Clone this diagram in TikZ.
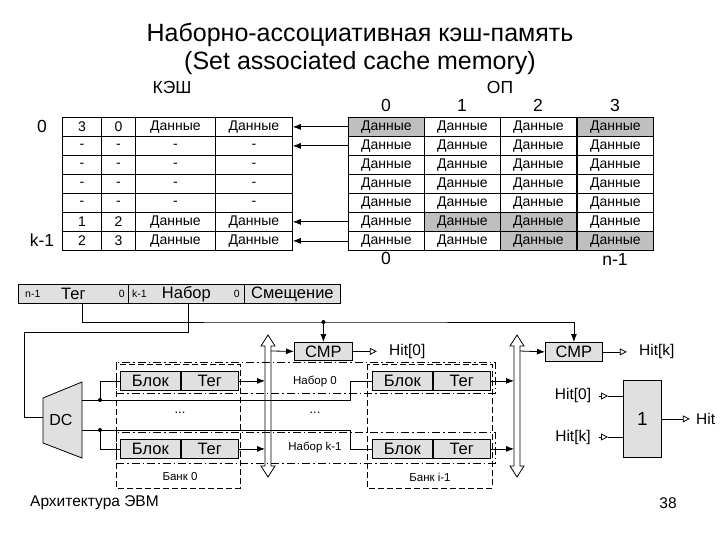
\documentclass[tikz,border=0pt]{standalone}
\usepackage{fontspec}
\setmainfont{Liberation Sans}
\usetikzlibrary{arrows.meta,calc}
\begin{document}
\begin{tikzpicture}[x=1pt,y=-1pt,
  cell/.style={draw,line width=0.8pt,minimum height=19pt,inner sep=0pt,font=\fontsize{14}{15}\selectfont,anchor=north west},
  gcell/.style={cell,fill=black!25},
  lbl/.style={inner sep=0pt,font=\fontsize{17.5}{20}\selectfont},
  sm/.style={inner sep=0pt,font=\fontsize{10.5}{11}\selectfont},
  mid/.style={inner sep=0pt,font=\fontsize{11.5}{12}\selectfont},
  hl/.style={inner sep=0pt,font=\fontsize{15.5}{17}\selectfont},
  box/.style={draw,line width=0.8pt,fill=black!12,inner sep=0pt,anchor=north west,font=\fontsize{16.5}{17}\selectfont},
  wire/.style={line width=0.8pt},
  arr/.style={wire,-{Latex[length=8pt,width=6pt]}},
  oarr/.style={wire,-{Triangle[open,length=7pt,width=7pt]}},
  bank/.style={line width=1pt,dash pattern=on 6pt off 3pt},
  setb/.style={line width=0.8pt,dash pattern=on 8pt off 3pt on 1.5pt off 3pt},
  bus/.style={draw,line width=0.8pt,fill=white}]
\useasboundingbox (0,0) rectangle (720,540);
\node[inner sep=0pt,font=\fontsize{25}{28}\selectfont,align=center] (title) at (360,49) {Наборно-ассоциативная кэш-память\\(Set associated cache memory)};
\node[lbl] (kesh) at (172,87) {КЭШ};
\node[lbl] (op) at (500,87) {ОП};
% cache table
\foreach \r/\a/\b/\c/\d in {0/3/0/Данные/Данные,1/-/-/-/-,2/-/-/-/-,3/-/-/-/-,4/-/-/-/-,5/1/2/Данные/Данные,6/2/3/Данные/Данные}{
  \node[cell,minimum width=39pt] (c\r a) at (62,117+19*\r) {\a};
  \node[cell,minimum width=34pt] (c\r b) at (101,117+19*\r) {\b};
  \node[cell,minimum width=80pt] (c\r c) at (135,117+19*\r) {\c};
  \node[cell,minimum width=77pt] (c\r d) at (215,117+19*\r) {\d};
}
\node[lbl] (r0) at (42,126) {0};
\node[lbl] (rk) at (42,240) {k-1};
% OP table
\foreach \r in {0,...,6}{
  \foreach \cc/\x in {0/348,1/424,2/500,3/577}{
    \node[cell,minimum width=76pt] (m\r-\cc) at (\x,117+19*\r) {Данные};
  }
}
\foreach \r/\cc in {0/0,0/3,5/1,5/2,6/2,6/3}{
  \node[gcell,minimum width=76pt] at (m\r-\cc.north west) {Данные};
}
\foreach \cc/\x in {0/386,1/462,2/538,3/615}{\node[lbl] (h\cc) at (\x,105) {\cc};}
\node[lbl] (b0) at (386,258) {0};
\node[lbl] (bn) at (615,259) {n-1};
\foreach \r in {0,1,5,6}{\draw[arr] (m\r-0.west) -- (c\r d.east);}
% address register
\node[box,minimum width=110pt,minimum height=19pt] (tag) at (18,284) {Тег};
\node[box,minimum width=116pt,minimum height=19pt] (set) at (128,284) {Набор};
\node[box,minimum width=96pt,minimum height=19pt] (off) at (244,284) {Смещение};
\node[sm,anchor=west] (t1) at ($(tag.west)+(7,0)$) {n-1};
\node[sm,anchor=east] (t2) at ($(tag.east)+(-4,0)$) {0};
\node[sm,anchor=west] (s1) at ($(set.west)+(4,0)$) {k-1};
\node[sm,anchor=east] (s2) at ($(set.east)+(-5,0)$) {0};
% CMPs
\node[box,minimum width=58pt,minimum height=18pt] (cmp1) at (294,342) {CMP};
\node[box,minimum width=57pt,minimum height=19pt] (cmp2) at (545,342) {CMP};
\coordinate (j1) at (cmp1.north|-0,322);
\draw[wire] (tag.south-|82,0) |- (j1) -| ($(cmp2.north)+(0,-12)$);
\draw[arr] (j1) -- (cmp1.north);
\draw[arr] ($(cmp2.north)+(0,-12)$) -- (cmp2.north);
\fill (j1) circle (2pt);
% DC
\draw[wire,fill=black!12] (43,398) -- (82,382) -- (82,458) -- (43,443) -- cycle;
\node[hl,font=\fontsize{16}{17}\selectfont] (dc) at (61,420) {DC};
\draw[wire] (set.south-|188,0) |- (24,332) |- (43,417);
% buses
\foreach \n/\x in {bus1/268,bus2/517}{
  \draw[bus] (\x-3,346) -- (\x-3,466) -- (\x-7,466) -- (\x,477) -- (\x+7,466) -- (\x+3,466) -- (\x+3,346) -- (\x+7,346) -- (\x,335) -- (\x-7,346) -- cycle;
  \coordinate (\n) at (\x,351);
}
\draw[arr] ($(bus1)+(3,0)$) -- (cmp1.west);
\draw[arr] ($(bus2)+(3,0)$) -- (cmp2.west);
\draw[oarr] (cmp1.east) -- ++(24,0) node[hl,right=12pt] (hit0) {Hit[0]};
\draw[oarr] (cmp2.east) -- ++(24,0) node[hl,right=12pt] (hitk) {Hit[k]};
% banks
\draw[bank] (116,364) rectangle (240,488);
\draw[bank] (367,364) rectangle (492,488);
\draw[setb] (116,362) rectangle (495,393);
\draw[setb] (116,432) rectangle (495,463);
\node[mid] (bk0) at (180,477) {Банк 0};
\node[mid] (bki) at (430,477) {Банк i-1};
\node[mid] (n0) at (315,381) {Набор 0};
\node[mid] (nk) at (315,447) {Набор k-1};
\node[mid,font=\fontsize{13}{13}\selectfont] (d1) at (180,413) {...};
\node[mid,font=\fontsize{13}{13}\selectfont] (d2) at (315,413) {...};
% blocks
\foreach \n/\x/\y in {a/120/371,b/120/439,c/372/371,d/372/439}{
  \node[box,minimum width=60pt,minimum height=19pt] (bl\n) at (\x,\y) {Блок};
  \node[box,minimum width=57pt,minimum height=19pt] (tg\n) at (bl\n.north east) {Тег};
}
\draw[arr] (tga.east) -- (tga.east-|265,0);
\draw[arr] (tgb.east) -- (tgb.east-|265,0);
\draw[arr] (tgc.east) -- (tgc.east-|514,0);
\draw[arr] (tgd.east) -- (tgd.east-|514,0);
% DC outputs
\coordinate (ja) at (100,400);
\coordinate (jb) at (100,430);
\draw[wire] (82,400) -- (350,400) |- (blc.west);
\draw[wire] (82,430) -- (350,430) |- (bld.west);
\draw[wire] (ja) |- (bla.west);
\draw[wire] (jb) |- (blb.west);
\fill (ja) circle (2pt); \fill (jb) circle (2pt);
% OR gate
\node[box,minimum width=38pt,minimum height=77pt] (or) at (623,380) {};
\node[lbl,font=\fontsize{19}{20}\selectfont] (one) at (or.center) {1};
\node[hl] (hi0) at (573,395) {Hit[0]};
\node[hl] (hik) at (573,437) {Hit[k]};
\coordinate (ia) at (599,396); \coordinate (ib) at (599,437);
\draw[oarr] (ia) -- ++(9,0);
\draw[oarr] (ib) -- ++(9,0);
\draw[wire] ($(ia)+(9,0)$) -- (ia-|or.west);
\draw[wire] ($(ib)+(9,0)$) -- (ib-|or.west);
\draw[oarr] (or.east) -- ++(28,0) node[hl,right=6pt] (hit) {Hit};
% footer
\node[hl,anchor=west] (foot) at (30,503) {Архитектура ЭВМ};
\node[hl] (pg) at (668,503) {38};
\end{tikzpicture}
\end{document}
